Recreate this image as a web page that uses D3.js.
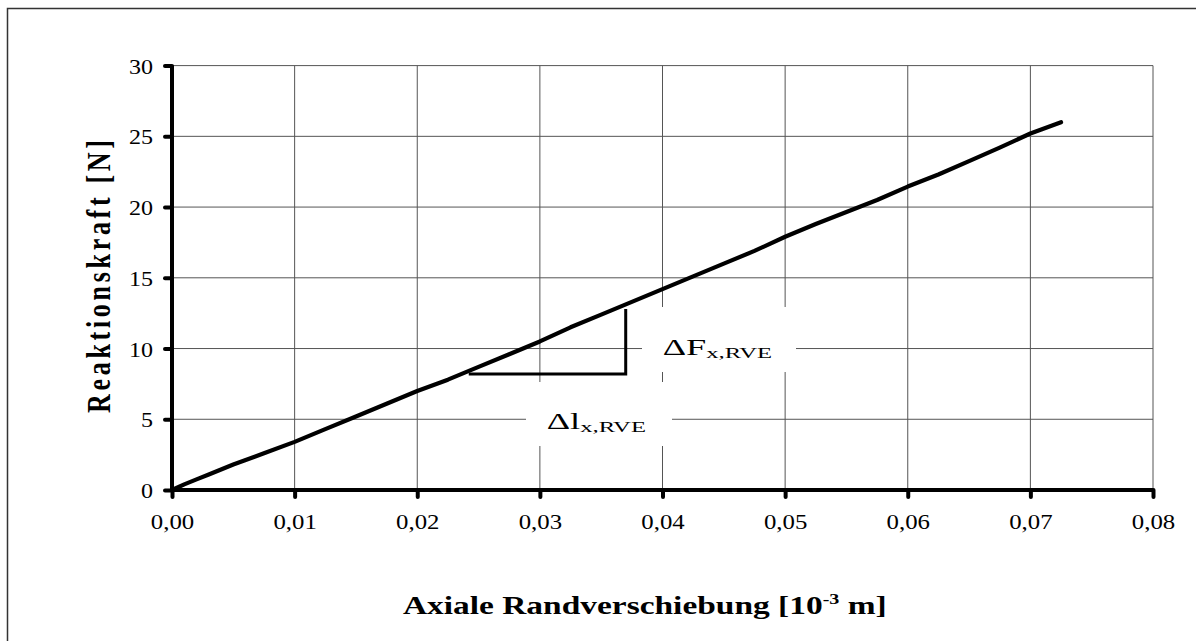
<!DOCTYPE html>
<html>
<head>
<meta charset="utf-8">
<script src="https://cdn.jsdelivr.net/npm/d3@7"></script>
<style>
  html, body { margin: 0; padding: 0; background: #fff; }
  svg { display: block; }
  text { font-family: "Liberation Serif", "Times New Roman", serif; fill: #000; }
</style>
</head>
<body>
<svg id="chart" width="1196" height="641"></svg>
<script>
// ---- data ----
const displacement = [0, 0.001, 0.002, 0.003, 0.005, 0.0075, 0.01, 0.0125, 0.015, 0.0175, 0.02, 0.0225, 0.025, 0.0275, 0.03, 0.0325, 0.035, 0.0375, 0.04, 0.0425, 0.045, 0.0475, 0.05, 0.0525, 0.055, 0.0575, 0.06, 0.0625, 0.065, 0.0675, 0.07, 0.0725];
const force = [0, 0.4, 0.75, 1.1, 1.8, 2.6, 3.4, 4.3, 5.2, 6.1, 7.0, 7.8, 8.7, 9.6, 10.5, 11.5, 12.4, 13.3, 14.2, 15.1, 16.0, 16.9, 17.9, 18.8, 19.65, 20.5, 21.45, 22.3, 23.25, 24.2, 25.2, 26.0];
const xTicks = [0, 0.01, 0.02, 0.03, 0.04, 0.05, 0.06, 0.07, 0.08];
const yTicks = [0, 5, 10, 15, 20, 25, 30];
const triangleX = [0.0242, 0.0370];
const triangleY = [8.2, 12.8];
const xTitle = "Axiale Randverschiebung [10";
const yTitle = "Reaktionskraft [N]";

const svg = d3.select("#chart");
const pLeft = 172, pRight = 1153, pTop = 65.6, pBottom = 490;

const x = d3.scaleLinear().domain([0, 0.08]).range([pLeft, pRight]);
const y = d3.scaleLinear().domain([0, 30]).range([pBottom, pTop]);

// outer frame (top and left edges)
svg.append("path").attr("d", "M7.5,1196 V8.5 H1196").attr("fill", "none").attr("stroke", "#333").attr("stroke-width", 1.5);

// gridlines
const grid = svg.append("g");
grid.selectAll("line.gx").data(xTicks.slice(1)).join("line")
  .attr("x1", d => x(d)).attr("x2", d => x(d)).attr("y1", pTop).attr("y2", pBottom)
  .attr("stroke", "#555").attr("stroke-width", 1);
grid.selectAll("line.gy").data(yTicks.slice(1)).join("line")
  .attr("x1", pLeft).attr("x2", pRight).attr("y1", d => y(d)).attr("y2", d => y(d))
  .attr("stroke", "#555").attr("stroke-width", 1);

// label background boxes
svg.append("rect").attr("x", 642).attr("y", 307).attr("width", 154).attr("height", 65).attr("fill", "#fff");
svg.append("rect").attr("x", 526).attr("y", 382).attr("width", 146).attr("height", 64).attr("fill", "#fff");

// axes
const fmtX = d => d3.format(".2f")(d).replace(".", ",");
const xAxis = d3.axisBottom(x).tickValues(xTicks).tickFormat(fmtX).tickSize(7).tickPadding(18);
const yAxis = d3.axisLeft(y).tickValues(yTicks).tickFormat(d3.format("d")).tickSize(7).tickPadding(19);

const gx = svg.append("g").attr("transform", `translate(0,${pBottom})`).call(xAxis);
const gy = svg.append("g").attr("transform", `translate(${pLeft},0)`).call(yAxis);
[gx, gy].forEach(g => {
  g.select(".domain").attr("stroke", "#000").attr("stroke-width", 4);
  g.selectAll(".tick line").attr("stroke", "#000").attr("stroke-width", 4).attr("stroke-linecap", "round");
  g.selectAll(".tick text").attr("font-family", "Liberation Serif").attr("font-size", 20).attr("fill", "#000");
});
gx.selectAll(".tick text").attr("transform", "scale(1.24,1)");
gy.selectAll(".tick text").attr("x", 0).attr("dy", "0.38em").attr("transform", "translate(-19,0) scale(1.2,1)");
gx.select(".domain").attr("d", `M${pLeft},0H${pRight}`);
gy.select(".domain").attr("d", `M0,${pBottom}V${pTop}`);

// data line
const line = d3.line().x((d, i) => x(displacement[i])).y((d, i) => y(force[i])).curve(d3.curveLinear);
svg.append("path").datum(force).attr("d", line)
  .attr("fill", "none").attr("stroke", "#000").attr("stroke-width", 4.2)
  .attr("stroke-linejoin", "round").attr("stroke-linecap", "round");

// triangle annotation
svg.append("path")
  .attr("d", `M${x(triangleX[0])},${y(triangleY[0])}H${x(triangleX[1])}V${y(triangleY[1])}`)
  .attr("fill", "none").attr("stroke", "#000").attr("stroke-width", 3);

// annotation labels
const lf = svg.append("text").attr("transform", "translate(662.7,355) scale(1.58,1)").attr("font-size", 23);
lf.append("tspan").text("ΔF");
lf.append("tspan").attr("font-size", 15.6).attr("dy", 2.7).text("x,RVE");

const ll = svg.append("text").attr("transform", "translate(546.7,429.3) scale(1.58,1)").attr("font-size", 23);
ll.append("tspan").text("Δl");
ll.append("tspan").attr("font-size", 15.6).attr("dy", 2.7).text("x,RVE");

// axis titles
const xt = svg.append("text").attr("text-anchor", "middle")
  .attr("font-size", 25).attr("font-weight", "bold");
xt.append("tspan").text(xTitle);
xt.append("tspan").attr("font-size", 15).attr("dy", -10).text("-3");
xt.append("tspan").attr("dy", 10).text(" m]");
const xtW = xt.node().getBBox().width;
xt.attr("transform", `translate(644.8,614) scale(${484 / xtW},1)`);

const yt = svg.append("text").attr("text-anchor", "middle")
  .attr("font-size", 26).attr("font-weight", "bold").text(yTitle);
const ytL = yt.node().getComputedTextLength();
const ls = (273 - ytL) / (yTitle.length - 1);
yt.attr("letter-spacing", ls).attr("dx", ls / 2)
  .attr("transform", "translate(110,276.5) scale(1.28,1) rotate(-90)");
</script>
</body>
</html>
